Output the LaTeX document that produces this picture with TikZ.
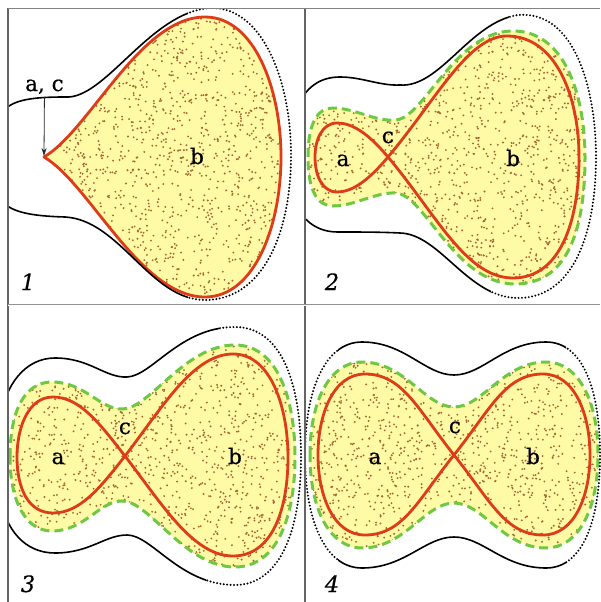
\documentclass[tikz,border=0pt]{standalone}
\usepackage{fontspec}
\setmainfont{DejaVu Serif}
\newfontfamily\lblfont{DejaVu Serif}[FakeBold=0.6]
\newfontfamily\numfont{DejaVu Serif Italic}[FakeBold=0.4]
\usetikzlibrary{arrows.meta}
\definecolor{lobeyellow}{RGB}{255,250,165}
\definecolor{lobered}{RGB}{222,60,24}
\definecolor{lobegreen}{RGB}{110,200,66}
\definecolor{dotbrown}{RGB}{165,105,55}
\definecolor{framegray}{RGB}{100,100,100}
\newcommand\sprinkle[5]{\foreach \k in {1,...,#5}{\pgfmathsetmacro\rx{#1+rnd*#3}\pgfmathsetmacro\ry{#2+rnd*#4}\fill[dotbrown] (\rx,\ry) circle (1.05);}}
% panel 1
\def\PoneRed{(44,157) .. controls (90,130) and (140,17) .. (205,17) .. controls (255,17) and (281,90) .. (281,157) .. controls (281,225) and (255,297) .. (205,297) .. controls (140,297) and (90,184) .. cycle}
\def\PoneOut{(0,116) .. controls (8,100) and (30,97) .. (65,97) .. controls (105,100) and (150,12) .. (210,8) .. controls (262,6) and (291,80) .. (291,155) .. controls (291,235) and (262,300) .. (205,300) .. controls (150,300) and (120,220) .. (65,217) .. controls (30,216) and (8,212) .. (0,198)}
% panel 2
\def\PtwoRed{(388,157) .. controls (436,100) and (468,36) .. (507,36) .. controls (555,36) and (579,95) .. (579,157) .. controls (579,222) and (560,278) .. (513,278) .. controls (466,278) and (436,214) .. (388,157) .. controls (368,133) and (352,123) .. (337,123) .. controls (322,123) and (315,140) .. (315,157) .. controls (315,175) and (322,192) .. (337,192) .. controls (352,192) and (368,181) .. cycle}
\def\PtwoGreen{(308,157) .. controls (308,122) and (318,108) .. (333,108) .. controls (355,108) and (375,122) .. (396,120) .. controls (425,117) and (455,31) .. (513,31) .. controls (567,31) and (585,100) .. (585,157) .. controls (585,225) and (570,284) .. (515,284) .. controls (455,284) and (425,195) .. (396,193) .. controls (375,192) and (355,206) .. (333,206) .. controls (318,206) and (308,192) .. cycle}
\def\PtwoOut{(296,110) .. controls (305,87) and (320,77) .. (340,77) .. controls (362,77) and (380,86) .. (400,85) .. controls (440,88) and (470,22) .. (518,15) .. controls (575,10) and (596,90) .. (596,157) .. controls (596,230) and (575,298) .. (518,298) .. controls (468,298) and (440,234) .. (400,233) .. controls (380,232) and (360,232) .. (338,232) .. controls (318,232) and (305,222) .. (296,206)}
% panel 3
\def\PthreeRed{(125,456) .. controls (162,408) and (193,354) .. (233,354) .. controls (272,354) and (288,410) .. (288,457) .. controls (288,510) and (272,556) .. (233,556) .. controls (193,556) and (162,504) .. (125,456) .. controls (100,424) and (80,397) .. (53,397) .. controls (28,397) and (17,428) .. (17,457) .. controls (17,488) and (28,513) .. (53,513) .. controls (80,513) and (100,488) .. cycle}
\def\PthreeGreen{(10,457) .. controls (10,410) and (25,382) .. (52,382) .. controls (85,382) and (100,410) .. (123,409) .. controls (150,408) and (185,345) .. (235,345) .. controls (278,345) and (295,400) .. (295,457) .. controls (295,515) and (278,567) .. (235,567) .. controls (185,567) and (150,502) .. (123,501) .. controls (100,500) and (85,531) .. (52,531) .. controls (25,531) and (10,500) .. cycle}
\def\PthreeOut{(0,420) .. controls (5,385) and (25,358) .. (55,358) .. controls (90,358) and (105,378) .. (127,377) .. controls (152,376) and (180,327) .. (235,327) .. controls (280,327) and (301,380) .. (301,457) .. controls (301,530) and (280,585) .. (235,585) .. controls (180,585) and (152,535) .. (127,535) .. controls (105,535) and (90,553) .. (55,553) .. controls (25,553) and (5,530) .. (0,495)}
% panel 4
\def\PfourRed{(454,455) .. controls (490,410) and (505,374) .. (543,374) .. controls (575,374) and (590,415) .. (590,455) .. controls (590,495) and (575,535) .. (543,535) .. controls (505,535) and (490,500) .. (454,455) .. controls (418,410) and (403,374) .. (365,374) .. controls (333,374) and (318,415) .. (318,455) .. controls (318,495) and (333,535) .. (365,535) .. controls (403,535) and (418,500) .. cycle}
\def\PfourGreen{(310,455) .. controls (310,400) and (330,362) .. (362,362) .. controls (405,362) and (425,407) .. (454,407) .. controls (483,407) and (503,362) .. (546,362) .. controls (578,362) and (598,400) .. (598,455) .. controls (598,510) and (578,548) .. (546,548) .. controls (503,548) and (483,503) .. (454,503) .. controls (425,503) and (405,548) .. (362,548) .. controls (330,548) and (310,510) .. cycle}
\def\PfourOut{(305,455) .. controls (305,390) and (325,342) .. (362,342) .. controls (405,342) and (425,375) .. (454,375) .. controls (483,375) and (503,342) .. (546,342) .. controls (583,342) and (600,390) .. (600,455) .. controls (600,520) and (583,568) .. (546,568) .. controls (503,568) and (483,537) .. (454,537) .. controls (425,537) and (405,568) .. (362,568) .. controls (325,568) and (305,520) .. cycle}
\begin{document}
\begin{tikzpicture}[x=1pt,y=-1pt,
  redline/.style={draw=lobered,line width=2.8pt,line join=round},
  greenline/.style={draw=lobegreen,line width=3pt,dash pattern=on 9pt off 5pt},
  solidline/.style={draw=black,line width=1.6pt},
  dotline/.style={draw=black,line width=2.2pt,line cap=round,dash pattern=on 0pt off 3.4pt},
  lbl/.style={font=\lblfont\fontsize{21.5}{26}\selectfont,inner sep=0pt,anchor=base},
  num/.style={font=\numfont\fontsize{22.5}{27}\selectfont,inner sep=0pt,anchor=base},
  framev/.style={draw=framegray,line width=1.3pt},
  frameh/.style={draw=framegray!70,line width=0.8pt,double=white,double distance=1pt},
  arrowst/.style={draw=black!85,line width=0.8pt,-{Stealth[length=8pt,width=5pt]}}]
\useasboundingbox (0,0) rectangle (600,602);
\pgfmathsetseed{2024}
% ---------- panel 1
\fill[lobeyellow] \PoneRed;
\begin{scope}\clip \PoneRed; \sprinkle{44}{17}{237}{280}{1400}\end{scope}
\draw[redline] \PoneRed;
\begin{scope}\clip (8.5,8.5) rectangle (188,312);\draw[solidline] \PoneOut;\end{scope}
\begin{scope}\clip (188,8.5) rectangle (304,312);\draw[dotline] \PoneOut;\end{scope}
\node[lbl] (ac) at (44.5,91) {a, c};
\coordinate (cusp) at (44,156);
\draw[arrowst,shorten <=3pt] (ac) -- (cusp);
\node[lbl] (b1) at (197,164) {b};
\node[num] (n1) at (28,290) {1};
% ---------- panel 2
\fill[lobeyellow] \PtwoGreen;
\begin{scope}\clip \PtwoGreen; \sprinkle{306}{29}{281}{257}{1550}\end{scope}
\draw[redline] \PtwoRed;
\draw[greenline] \PtwoGreen;
\begin{scope}\clip (305,0) -- (510,0) -- (490,304) -- (305,304) -- cycle;\draw[solidline] \PtwoOut;\end{scope}
\begin{scope}\clip (510,0) -- (600,0) -- (600,304) -- (490,304) -- cycle;\draw[dotline] \PtwoOut;\end{scope}
\node[lbl] (a2) at (343,166) {a};
\node[lbl] (c2) at (388,143) {c};
\node[lbl] (b2) at (513,166) {b};
\node[num] (n2) at (332,290) {2};
% ---------- panel 3
\fill[lobeyellow] \PthreeGreen;
\begin{scope}\clip \PthreeGreen; \sprinkle{8}{343}{289}{226}{1400}\end{scope}
\draw[redline] \PthreeRed;
\draw[greenline] \PthreeGreen;
\begin{scope}\clip (8.5,306) -- (222,306) -- (205,602) -- (8.5,602) -- cycle;\draw[solidline] \PthreeOut;\end{scope}
\begin{scope}\clip (222,306) -- (304,306) -- (304,602) -- (205,602) -- cycle;\draw[dotline] \PthreeOut;\end{scope}
\node[lbl] (a3) at (58,464) {a};
\node[lbl] (c3) at (125,434) {c};
\node[lbl] (b3) at (235,464) {b};
\node[num] (n3) at (28,592) {3};
% ---------- panel 4
\fill[lobeyellow] \PfourGreen;
\begin{scope}\clip \PfourGreen; \sprinkle{308}{360}{292}{190}{1200}\end{scope}
\draw[redline] \PfourRed;
\draw[greenline] \PfourGreen;
\begin{scope}\clip (338,306) rectangle (566,602);\draw[solidline] \PfourOut;\end{scope}
\begin{scope}\clip (290,306) rectangle (338,602) (566,306) rectangle (610,602);\draw[dotline] \PfourOut;\end{scope}
\node[lbl] (a4) at (375,464) {a};
\node[lbl] (c4) at (455,433) {c};
\node[lbl] (b4) at (533,464) {b};
\node[num] (n4) at (332,592) {4};
% ---------- frame
\draw[framev] (8,8) -- (8,602);
\draw[framev] (305,8) -- (305,602);
\draw[framev,draw=framegray!80] (8,8.5) -- (600,8.5);
\draw[frameh] (8,305) -- (600,305);
\end{tikzpicture}
\end{document}
